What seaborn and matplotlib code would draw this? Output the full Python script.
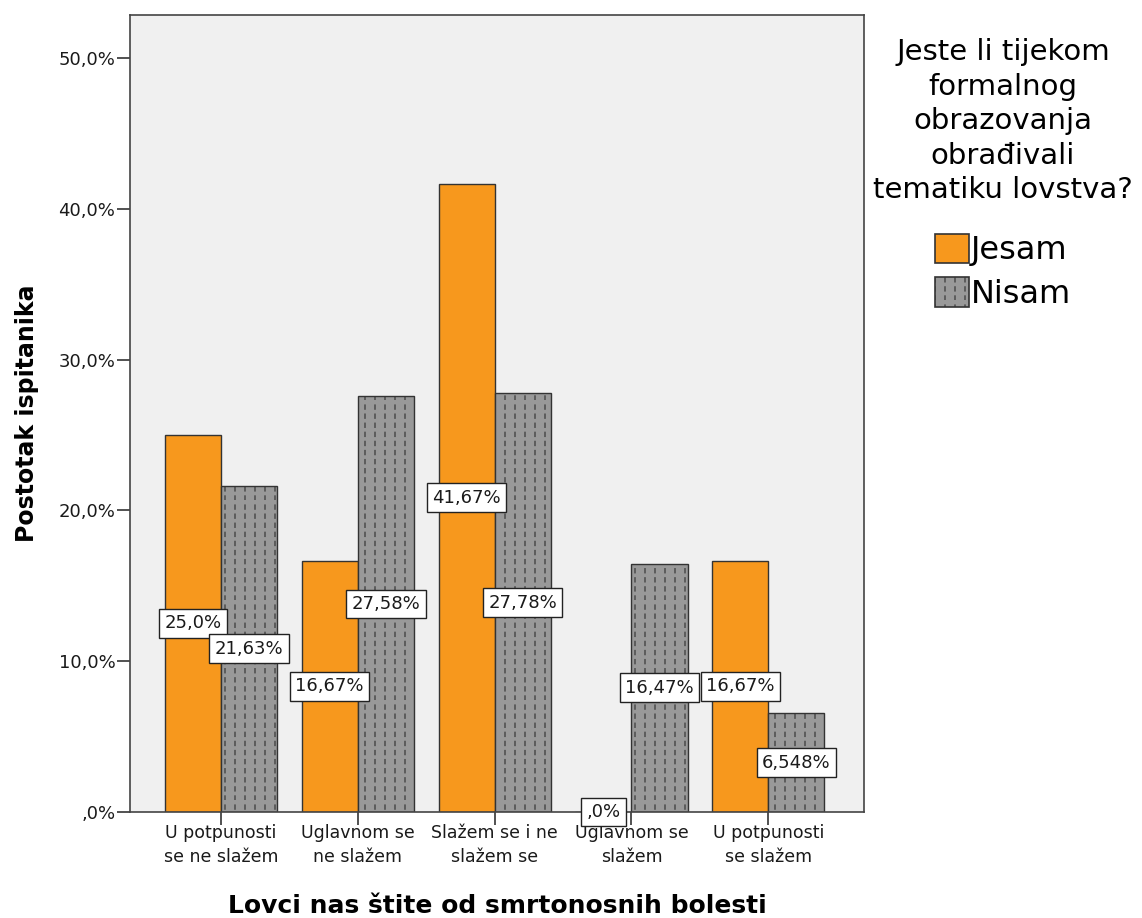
import matplotlib
matplotlib.use("Agg")
import matplotlib.pyplot as plt
import matplotlib.hatch as mhatch
from matplotlib.path import Path
import seaborn as sns
import pandas as pd
from matplotlib.patches import Patch

categories = ["U potpunosti\nse ne slažem", "Uglavnom se\nne slažem", "Slažem se i ne\nslažem se",
              "Uglavnom se\nslažem", "U potpunosti\nse slažem"]
series = ["Jesam", "Nisam"]
jesam = [25.0, 16.67, 41.67, 0.0, 16.67]
nisam = [21.63, 27.58, 27.78, 16.47, 6.548]
jesam_labels = ["25,0%", "16,67%", "41,67%", ",0%", "16,67%"]
nisam_labels = ["21,63%", "27,58%", "27,78%", "16,47%", "6,548%"]
yticks = [0, 10, 20, 30, 40, 50]
ytick_labels = [",0%", "10,0%", "20,0%", "30,0%", "40,0%", "50,0%"]

df = pd.DataFrame({
    "cat": categories * 2,
    "grp": ["Jesam"] * 5 + ["Nisam"] * 5,
    "val": jesam + nisam,
})


# dashed vertical hatch (SPSS-like dotted columns) replacing the '|' hatch
class DashedVertical(mhatch.HatchPatternBase):
    def __init__(self, hatch, density):
        self.ncol = 10 if hatch.count('|') > 0 else 0
        self.ndash = 11
        self.num_vertices = self.ncol * self.ndash * 2

    def set_vertices_and_codes(self, vertices, codes):
        k = 0
        for i in range(self.ncol):
            x = (i + 0.5) / self.ncol
            for j in range(self.ndash):
                y0 = j / self.ndash
                vertices[k] = (x, y0)
                vertices[k + 1] = (x, y0 + 0.04)
                codes[k] = Path.MOVETO
                codes[k + 1] = Path.LINETO
                k += 2


mhatch._hatch_types = [DashedVertical if t is mhatch.VerticalHatch else t for t in mhatch._hatch_types]

sns.set_style("white")
plt.rcParams["font.family"] = ["DejaVu Sans"]
plt.rcParams["hatch.linewidth"] = 1.0

colors = {"Jesam": "#F7981D", "Nisam": "#999999"}
hatch_col = matplotlib.colors.to_rgba("#444444")

fig = plt.figure(figsize=(11.42, 9.18), dpi=100)
ax = fig.add_axes([0.1138, 0.1155, 0.7566 - 0.1138, 0.9837 - 0.1155])
ax.set_facecolor("#F0F0F0")

sns.barplot(data=df, x="cat", y="val", hue="grp", order=categories, hue_order=series,
            palette=colors, width=0.82, saturation=1, edgecolor="#333333", linewidth=1.0,
            ax=ax, legend=False, errorbar=None)

conts = ax.containers
for bar in conts[1]:
    bar.set_hatch("|")
    bar._hatch_color = hatch_col

bbox = dict(boxstyle="square,pad=0.3", fc="white", ec="#222222", lw=1.0)
for cont, labs in zip(conts, [jesam_labels, nisam_labels]):
    ax.bar_label(cont, labels=labs, label_type="center", fontsize=13, color="#1a1a1a", bbox=bbox)

ax.set_xlim(-0.665, 4.70)
ax.set_ylim(0, 52.85)
ax.set_yticks(yticks)
ax.set_yticklabels(ytick_labels, fontsize=13, color="#1a1a1a")
ax.tick_params(axis="y", length=9.5, width=1.2, color="#333333", direction="out", left=True, pad=1)
ax.tick_params(axis="x", length=9, width=1.2, color="#333333", direction="out", bottom=True,
               labelsize=12.5, labelcolor="#1a1a1a", pad=0)
for lab in ax.get_xticklabels():
    lab.set_linespacing(1.4)
for s in ax.spines.values():
    s.set_color("#444444")
    s.set_linewidth(1.2)

ax.set_xlabel("Lovci nas štite od smrtonosnih bolesti", fontsize=18, fontweight="bold",
              labelpad=20, color="black")
ax.set_ylabel("Postotak ispitanika", fontsize=17, fontweight="bold", labelpad=14, color="black")

handles = [Patch(facecolor=colors["Jesam"], edgecolor="#333333", lw=1.2),
           Patch(facecolor=colors["Nisam"], edgecolor="#333333", lw=1.2, hatch="|")]
handles[1]._hatch_color = hatch_col
leg = fig.legend(handles, series, loc="upper center", bbox_to_anchor=(1003 / 1142, 1 - 22 / 918),
                 title="Jeste li tijekom\nformalnog\nobrazovanja\nobrađivali\ntematiku lovstva?",
                 frameon=False, fontsize=23, title_fontsize=21, handlelength=1.05, handleheight=1.05,
                 handletextpad=0.05, labelspacing=0.35, alignment="center", borderpad=0)
leg.get_title().set_multialignment("center")
leg.get_title().set_linespacing(1.3)
leg.get_title().set_color("black")
for t in leg.get_texts():
    t.set_color("black")
leg._legend_box.sep = 21

fig.savefig("out.png", dpi=100)
